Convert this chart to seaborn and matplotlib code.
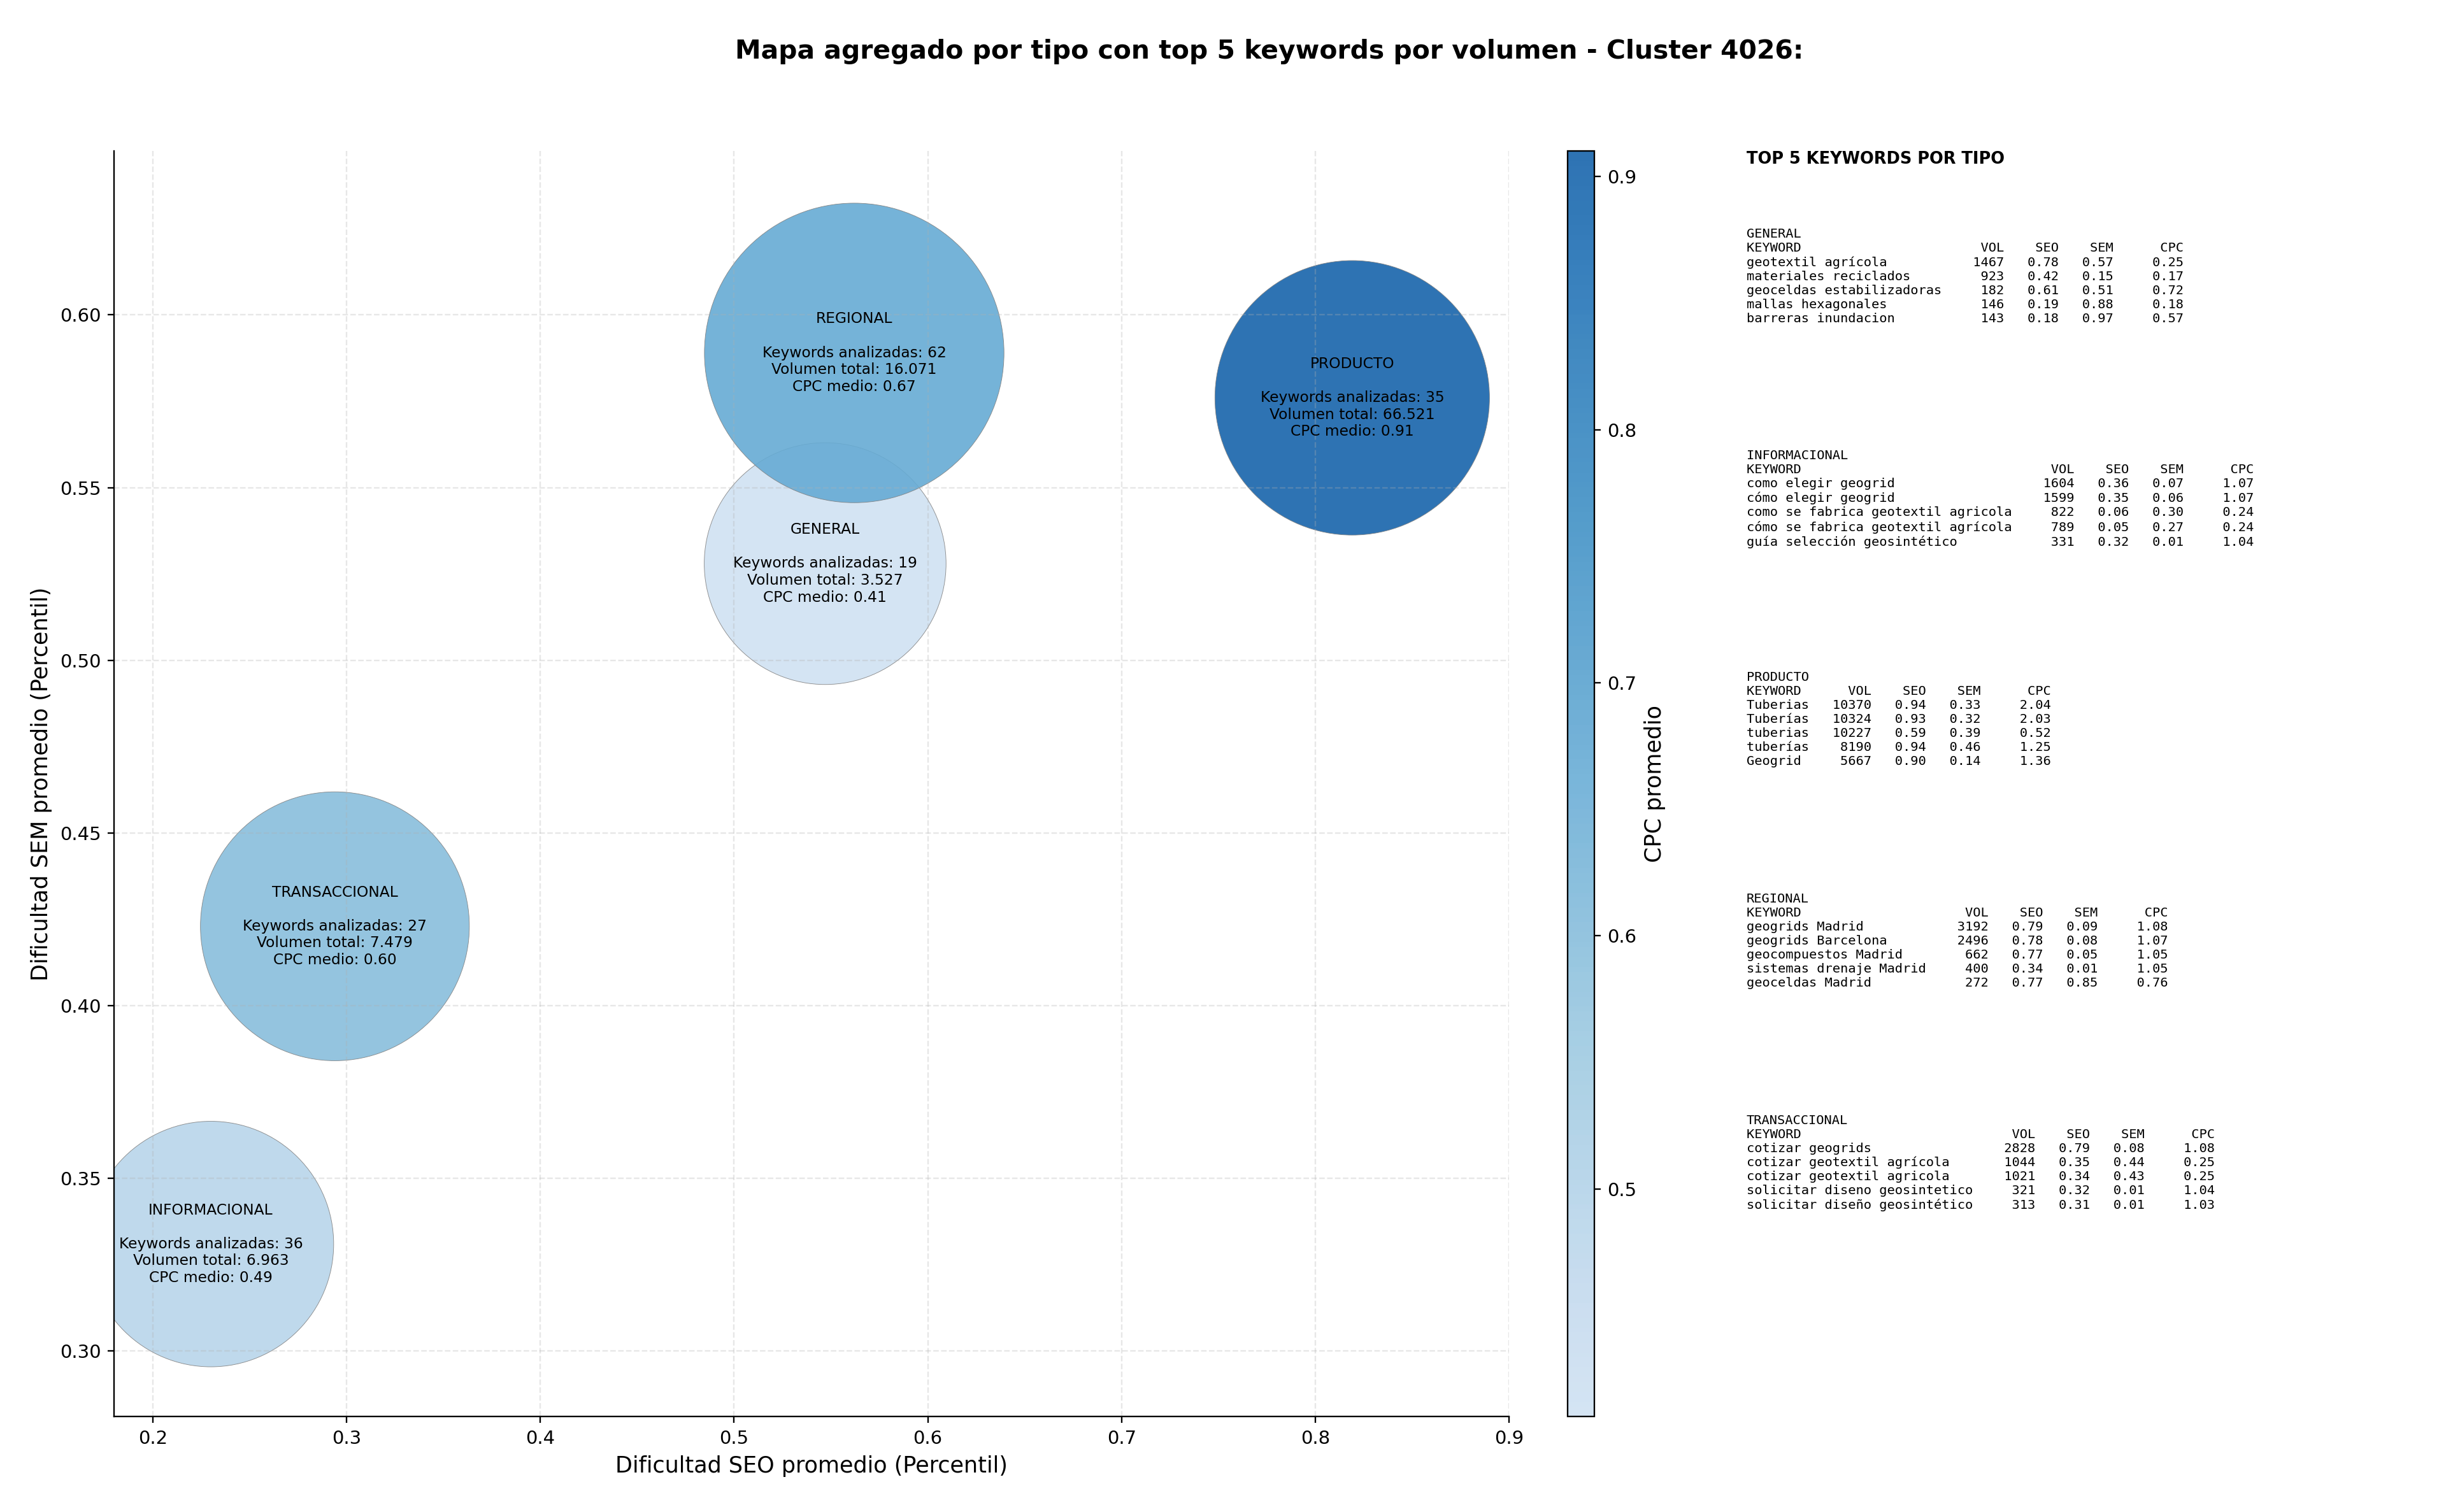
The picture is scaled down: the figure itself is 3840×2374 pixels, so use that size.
import numpy as np
import pandas as pd
import seaborn as sns
import matplotlib
matplotlib.use("Agg")
from matplotlib import pyplot as plt
from matplotlib.colors import ListedColormap, Normalize

# aggregated data per keyword type
tipos = ["GENERAL", "INFORMACIONAL", "PRODUCTO", "REGIONAL", "TRANSACCIONAL"]
seo_medio = [0.547, 0.230, 0.819, 0.562, 0.294]
sem_medio = [0.528, 0.331, 0.576, 0.589, 0.423]
cpc_medio = [0.41, 0.49, 0.91, 0.67, 0.60]
n_keywords = [19, 36, 35, 62, 27]
volumen_total = [3527, 6963, 66521, 16071, 7479]
# bubble areas (pt^2)
bubble_area = [16940, 17470, 21840, 26000, 20950]

# top 5 keywords per type: keyword, volume, seo, sem, cpc
top_general = [
    ("geotextil agrícola", 1467, 0.78, 0.57, 0.25),
    ("materiales reciclados", 923, 0.42, 0.15, 0.17),
    ("geoceldas estabilizadoras", 182, 0.61, 0.51, 0.72),
    ("mallas hexagonales", 146, 0.19, 0.88, 0.18),
    ("barreras inundacion", 143, 0.18, 0.97, 0.57),
]
top_informacional = [
    ("como elegir geogrid", 1604, 0.36, 0.07, 1.07),
    ("cómo elegir geogrid", 1599, 0.35, 0.06, 1.07),
    ("como se fabrica geotextil agricola", 822, 0.06, 0.30, 0.24),
    ("cómo se fabrica geotextil agrícola", 789, 0.05, 0.27, 0.24),
    ("guía selección geosintético", 331, 0.32, 0.01, 1.04),
]
top_producto = [
    ("Tuberias", 10370, 0.94, 0.33, 2.04),
    ("Tuberías", 10324, 0.93, 0.32, 2.03),
    ("tuberias", 10227, 0.59, 0.39, 0.52),
    ("tuberías", 8190, 0.94, 0.46, 1.25),
    ("Geogrid", 5667, 0.90, 0.14, 1.36),
]
top_regional = [
    ("geogrids Madrid", 3192, 0.79, 0.09, 1.08),
    ("geogrids Barcelona", 2496, 0.78, 0.08, 1.07),
    ("geocompuestos Madrid", 662, 0.77, 0.05, 1.05),
    ("sistemas drenaje Madrid", 400, 0.34, 0.01, 1.05),
    ("geoceldas Madrid", 272, 0.77, 0.85, 0.76),
]
top_transaccional = [
    ("cotizar geogrids", 2828, 0.79, 0.08, 1.08),
    ("cotizar geotextil agrícola", 1044, 0.35, 0.44, 0.25),
    ("cotizar geotextil agricola", 1021, 0.34, 0.43, 0.25),
    ("solicitar diseno geosintetico", 321, 0.32, 0.01, 1.04),
    ("solicitar diseño geosintético", 313, 0.31, 0.01, 1.03),
]
top_por_tipo = [top_general, top_informacional, top_producto, top_regional, top_transaccional]


def fmt_miles(v):
    return f"{v:,}".replace(",", ".")


def tabla_texto(tipo, filas):
    w = max(len("KEYWORD"), max(len(f[0]) for f in filas))
    lineas = [tipo, f"{'KEYWORD':<{w}}{'VOL':>8}{'SEO':>7}{'SEM':>7}{'CPC':>9}"]
    for kw, vol, seo, sem, cpc in filas:
        lineas.append(f"{kw:<{w}}{vol:>8}{seo:>7.2f}{sem:>7.2f}{cpc:>9.2f}")
    return "\n".join(lineas)


def main():
    df = pd.DataFrame({
        "tipo": tipos, "seo": seo_medio, "sem": sem_medio, "cpc": cpc_medio,
        "n": n_keywords, "vol": volumen_total, "area": bubble_area,
    })

    cmap = ListedColormap(plt.cm.Blues(np.linspace(0.2, 0.8, 256)))
    norm = Normalize(vmin=df["cpc"].min(), vmax=df["cpc"].max())

    fig = plt.figure(figsize=(3840 / 210, 2374 / 210), dpi=210)
    ax = fig.add_axes([0.0466, 0.063, 0.5704, 0.837])

    sns.scatterplot(data=df, x="seo", y="sem", hue="cpc", palette=cmap, hue_norm=norm,
                    size="area", sizes=(df["area"].min(), df["area"].max()),
                    size_norm=(df["area"].min(), df["area"].max()),
                    alpha=0.9, edgecolor="gray", linewidth=0.3, legend=False, ax=ax)

    for _, r in df.iterrows():
        etiqueta = (f"{r['tipo']}\n\nKeywords analizadas: {r['n']}\n"
                    f"Volumen total: {fmt_miles(r['vol'])}\nCPC medio: {r['cpc']:.2f}")
        ax.text(r["seo"], r["sem"], etiqueta, ha="center", va="center", fontsize=8)

    ax.set_xlim(0.18, 0.90)
    ax.set_ylim(0.281, 0.6474)
    ax.grid(True, linestyle="--", alpha=0.3)
    ax.spines["top"].set_visible(False)
    ax.spines["right"].set_visible(False)
    ax.set_xlabel("Dificultad SEO promedio (Percentil)", fontsize=12)
    ax.set_ylabel("Dificultad SEM promedio (Percentil)", fontsize=12)

    cax = fig.add_axes([0.641, 0.063, 0.0108, 0.837])
    sm = plt.cm.ScalarMappable(cmap=cmap, norm=norm)
    cb = fig.colorbar(sm, cax=cax, alpha=0.9)
    cb.set_label("CPC promedio", fontsize=12)

    fig.text(0.519, 0.966, "Mapa agregado por tipo con top 5 keywords por volumen - Cluster 4026:",
             ha="center", va="center", fontsize=14, fontweight="bold")

    fig.text(0.714, 0.9, "TOP 5 KEYWORDS POR TIPO", ha="left", va="top",
             fontsize=8.8, fontweight="bold")
    y0 = 0.849
    for i, (tipo, filas) in enumerate(zip(tipos, top_por_tipo)):
        fig.text(0.714, y0 - i * 0.1465, tabla_texto(tipo, filas), ha="left", va="top",
                 fontsize=7, family="DejaVu Sans Mono")

    fig.savefig("out.png", dpi=210)


if __name__ == "__main__":
    main()
